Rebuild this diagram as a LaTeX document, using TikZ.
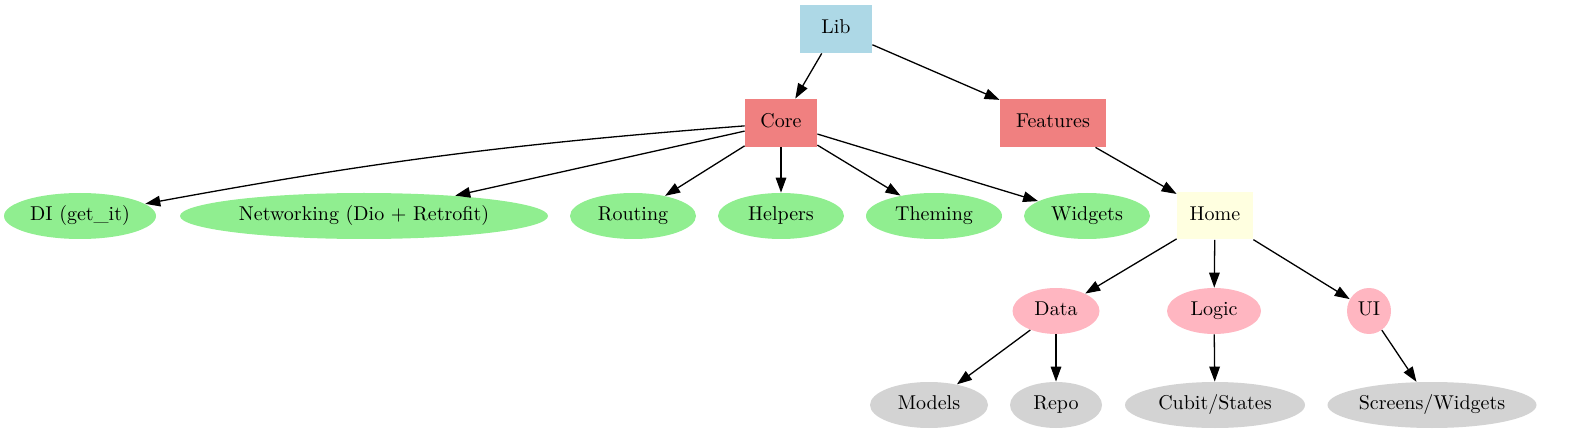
\documentclass[tikz,border=0pt]{standalone}
\usetikzlibrary{shapes.geometric,arrows.meta}
\definecolor{libblue}{HTML}{ADD8E6}
\definecolor{coral}{HTML}{F08080}
\definecolor{leafgreen}{HTML}{90EE90}
\definecolor{homeyellow}{HTML}{FFFFE0}
\definecolor{layerpink}{HTML}{FFB6C1}
\definecolor{partgray}{HTML}{D3D3D3}
\tikzset{
	box/.style={rectangle, fill=#1, minimum height=24pt, inner sep=0pt, text height=6.8pt, text depth=1.9pt},
	oval/.style={ellipse, fill=#1, minimum height=23pt, inner sep=0pt, text height=6.8pt, text depth=1.9pt},
	link/.style={-{Triangle[length=7.5pt,width=5.3pt]}, line width=0.65pt}
}
\begin{document}
\begin{tikzpicture}[x=0.5pt, y=-0.5pt]
	\useasboundingbox (0,0) rectangle (1595,443);
	% wurzel
	\node[box=libblue, minimum width=36pt] (lib) at (836,29) {Lib};
	% zweite ebene
	\node[box=coral, minimum width=36pt] (core) at (781,123) {Core};
	\node[box=coral, minimum width=53pt] (features) at (1053,123) {Features};
	% core module
	\node[oval=leafgreen, minimum width=76pt] (di) at (80,216) {DI (get\_it)};
	\node[oval=leafgreen, minimum width=184pt] (net) at (364,216) {Networking (Dio + Retrofit)};
	\node[oval=leafgreen, minimum width=63pt] (routing) at (633,216) {Routing};
	\node[oval=leafgreen, minimum width=63pt] (helpers) at (781,216) {Helpers};
	\node[oval=leafgreen, minimum width=68pt] (theming) at (934,216) {Theming};
	\node[oval=leafgreen, minimum width=63pt] (widgets) at (1087,216) {Widgets};
	% feature home
	\node[box=homeyellow, minimum width=38pt, minimum height=23.5pt] (home) at (1215,216) {Home};
	% schichten
	\node[oval=layerpink, minimum width=43.5pt] (data) at (1056,311) {Data};
	\node[oval=layerpink, minimum width=47pt] (logic) at (1214,311) {Logic};
	\node[oval=layerpink, minimum width=22pt] (ui) at (1369,311) {UI};
	% dateien
	\node[oval=partgray, minimum width=59pt] (models) at (929,405) {Models};
	\node[oval=partgray, minimum width=46pt] (repo) at (1056,405) {Repo};
	\node[oval=partgray, minimum width=90pt] (cubit) at (1215,405) {Cubit/States};
	\node[oval=partgray, minimum width=104.5pt] (screens) at (1432,405) {Screens/Widgets};
	% kanten
	\draw[link] (lib) -- (core);
	\draw[link] (lib) -- (features);
	\draw[link] (core) to[bend right=3] (di);
	\draw[link] (core) -- (net);
	\draw[link] (core) -- (routing);
	\draw[link] (core) -- (helpers);
	\draw[link] (core) -- (theming);
	\draw[link] (core) -- (widgets);
	\draw[link] (features) -- (home);
	\draw[link] (home) -- (data);
	\draw[link] (home) -- (logic);
	\draw[link] (home) -- (ui);
	\draw[link] (data) -- (models);
	\draw[link] (data) -- (repo);
	\draw[link] (logic) -- (cubit);
	\draw[link] (ui) -- (screens);
\end{tikzpicture}
\end{document}
